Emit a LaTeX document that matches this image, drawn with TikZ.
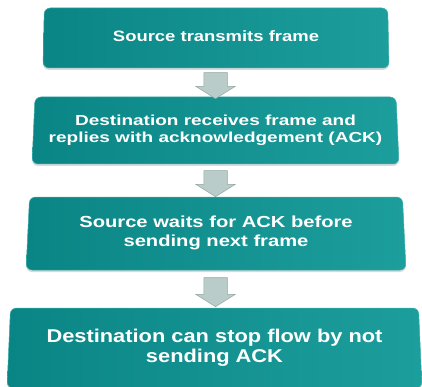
\documentclass[tikz,border=0pt]{standalone}
\usepackage{fontspec}
\setmainfont{Liberation Sans}
\usetikzlibrary{shapes.geometric,shapes.arrows,shadows}
\definecolor{boxleft}{HTML}{0A8585}
\definecolor{boxright}{HTML}{1C9E9C}
\definecolor{boxedge}{HTML}{3DAEAA}
\definecolor{arrowgray}{HTML}{B9CCCA}
\definecolor{arrowedge}{HTML}{8FA6A4}
\newcommand{\boxtext}[4]{\fontsize{#1}{#2}\selectfont\scalebox{#3}[1]{\begin{tabular}{@{}c@{}}#4\end{tabular}}}
\begin{document}
\begin{tikzpicture}[x=1pt,y=-1pt,
    stepbox/.style={trapezium, trapezium stretches body, rounded corners=6pt,
        left color=boxleft, right color=boxright, draw=boxedge, line width=0.5pt,
        text=white, font=\bfseries, inner sep=0pt,
        drop shadow={shadow xshift=0pt, shadow yshift=-2pt, opacity=0.3}},
    downarrow/.style={single arrow, shape border rotate=270, fill=arrowgray,
        draw=arrowedge, line width=0.5pt, inner xsep=11.5pt, inner ysep=0pt,
        single arrow head extend=8pt, single arrow tip angle=116}]

    \useasboundingbox (0,0) rectangle (422,387);

    % the four steps
    \node[stepbox, trapezium angle=86, minimum width=346pt, minimum height=60pt]
        (s1) at (216,38) {\boxtext{15}{18}{1.23}{Source transmits frame}};
    \node[stepbox, trapezium angle=85, minimum width=367pt, minimum height=67pt]
        (s2) at (215.5,130.5) {\boxtext{14.5}{17}{1.31}{Destination receives frame and\\replies with acknowledgement (ACK)}};
    \node[stepbox, trapezium angle=84.5, minimum width=380pt, minimum height=73pt]
        (s3) at (216,233.5) {\boxtext{16}{18.5}{1.26}{Source waits for ACK before\\sending next frame}};
    \node[stepbox, trapezium angle=85, minimum width=415pt, minimum height=80pt]
        (s4) at (214.5,348) {\boxtext{18.5}{20}{1.18}{Destination can stop flow by not\\sending ACK}};

    % block arrows between the steps
    \node[downarrow, minimum height=26pt] (a1) at (215.5,82) {};
    \node[downarrow, minimum height=26pt] (a2) at (215.5,180) {};
    \node[downarrow, minimum height=29pt] (a3) at (215.5,288.5) {};

\end{tikzpicture}
\end{document}
